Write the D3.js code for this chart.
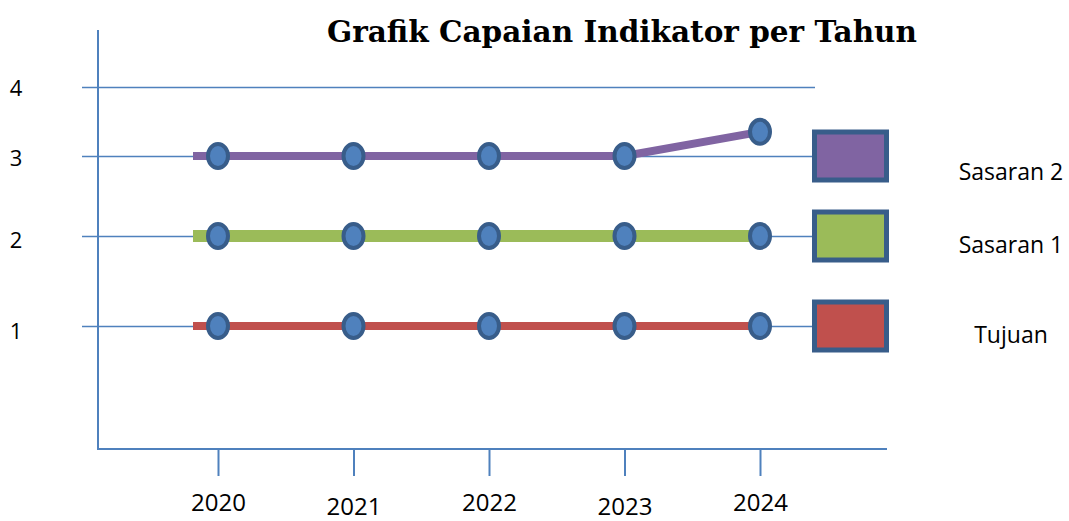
<!DOCTYPE html>
<html>
<head>
<meta charset="utf-8">
<script src="https://cdn.jsdelivr.net/npm/d3@7"></script>
<style>
  body { margin: 0; background: #fff; }
  svg { display: block; }
</style>
</head>
<body>
<svg id="chart"></svg>
<script>
// data
var years = [2020, 2021, 2022, 2023, 2024];
var yTicks = [1, 2, 3, 4];
var seriesNames = ["Sasaran 2", "Sasaran 1", "Tujuan"];
var sasaran2 = [3, 3, 3, 3, 3.35];
var sasaran1 = [2, 2, 2, 2, 2];
var tujuan = [1, 1, 1, 1, 1];
var level = [3, 2, 1];   // row each legend entry sits on
var colors = ["#8064a2", "#9bbb59", "#c0504d"];

var width = 1069, height = 521;
var axisColor = "#4f81bd";

var svg = d3.select("#chart")
    .attr("width", width)
    .attr("height", height);

var series = [sasaran2, sasaran1, tujuan].map(function (vals, i) {
    return {
        name: seriesNames[i],
        color: colors[i],
        level: level[i],
        width: i == 1 ? 12 : 8,
        points: years.map(function (yr, j) { return {year: yr, value: vals[j]}; })
    };
});

// scales (the drawing is hand spaced, so the y scale is piecewise)
var x = d3.scaleLinear().domain([2020, 2024]).range([218, 760]);
var y = d3.scaleLinear().domain([1, 2, 3, 4]).range([326, 236, 156, 87]);

// title
svg.append("text")
    .attr("x", 622)
    .attr("y", 42)
    .attr("text-anchor", "middle")
    .attr("textLength", 590)
    .attr("lengthAdjust", "spacingAndGlyphs")
    .style("font-family", "'DejaVu Serif', serif")
    .style("font-weight", "bold")
    .style("font-size", "30px")
    .text("Grafik Capaian Indikator per Tahun");

// gridlines + y labels
var yAxis = d3.axisLeft(y).tickValues(yTicks).tickSize(-(815 - 82)).tickFormat(d3.format("d"));
var gy = svg.append("g")
    .attr("transform", "translate(82,0)")
    .call(yAxis);
gy.select(".domain").remove();
gy.selectAll(".tick line")
    .attr("stroke", axisColor)
    .attr("stroke-width", 1.6);
gy.selectAll(".tick text")
    .attr("x", -66)
    .attr("dy", function (d) { return (0.62 - d * 0.06) + "em"; })
    .attr("text-anchor", "middle")
    .attr("fill", "#000")
    .style("font-family", "'Open Sans', sans-serif")
    .style("font-size", "22px");

// vertical axis line
svg.append("line")
    .attr("x1", 98).attr("x2", 98)
    .attr("y1", 30).attr("y2", 450)
    .attr("stroke", axisColor)
    .attr("stroke-width", 2);

// x axis
var gx = svg.append("g")
    .attr("transform", "translate(0,449)")
    .call(d3.axisBottom(x).tickValues(years).tickSize(27).tickFormat(d3.format("d")));
gx.select(".domain")
    .attr("d", "M98,0H887")
    .attr("stroke", axisColor)
    .attr("stroke-width", 2);
gx.selectAll(".tick line")
    .attr("stroke", axisColor)
    .attr("stroke-width", 2);
gx.selectAll(".tick text")
    .attr("y", function (d, i) { return i % 2 ? 58 : 54; })
    .attr("dy", "0.32em")
    .attr("fill", "#000")
    .style("font-family", "'Open Sans', sans-serif")
    .style("font-size", "24px");

// lines, padded a little past the first and last point like the original drawing
var padL = 25, padR = 10;
var line = d3.line()
    .x(function (d) { return d[0]; })
    .y(function (d) { return d[1]; });

series.forEach(function (s) {
    var pts = s.points.map(function (d) { return [x(d.year), y(d.value)]; });
    var a = pts[0], n = pts.length;
    var p = pts[n - 2], q = pts[n - 1];
    var len = Math.hypot(q[0] - p[0], q[1] - p[1]);
    var start = [a[0] - padL, a[1]];
    var end = [q[0] + (q[0] - p[0]) / len * padR, q[1] + (q[1] - p[1]) / len * padR];
    svg.append("path")
        .attr("d", line([start].concat(pts, [end])))
        .attr("fill", "none")
        .attr("stroke", s.color)
        .attr("stroke-width", s.width);
});

// markers
series.forEach(function (s) {
    svg.selectAll(null)
        .data(s.points)
        .enter().append("ellipse")
        .attr("cx", function (d) { return x(d.year); })
        .attr("cy", function (d) { return y(d.value); })
        .attr("rx", 10)
        .attr("ry", 12)
        .attr("fill", "#4f81bd")
        .attr("stroke", "#385d8a")
        .attr("stroke-width", 4);
});

// legend
var leg = svg.selectAll(".legend")
    .data(series)
    .enter().append("g")
    .attr("class", "legend")
    .attr("transform", function (d) { return "translate(0," + y(d.level) + ")"; });
leg.append("rect")
    .attr("x", 814.5)
    .attr("y", -24)
    .attr("width", 72)
    .attr("height", 48)
    .attr("fill", function (d) { return d.color; })
    .attr("stroke", "#385d8a")
    .attr("stroke-width", 5);
leg.append("text")
    .attr("x", 1011)
    .attr("y", function (d, i) { return i == 0 ? 24 : 17; })
    .attr("text-anchor", "middle")
    .style("font-family", "'Open Sans', sans-serif")
    .style("font-size", "23px")
    .text(function (d) { return d.name; });
</script>
</body>
</html>
